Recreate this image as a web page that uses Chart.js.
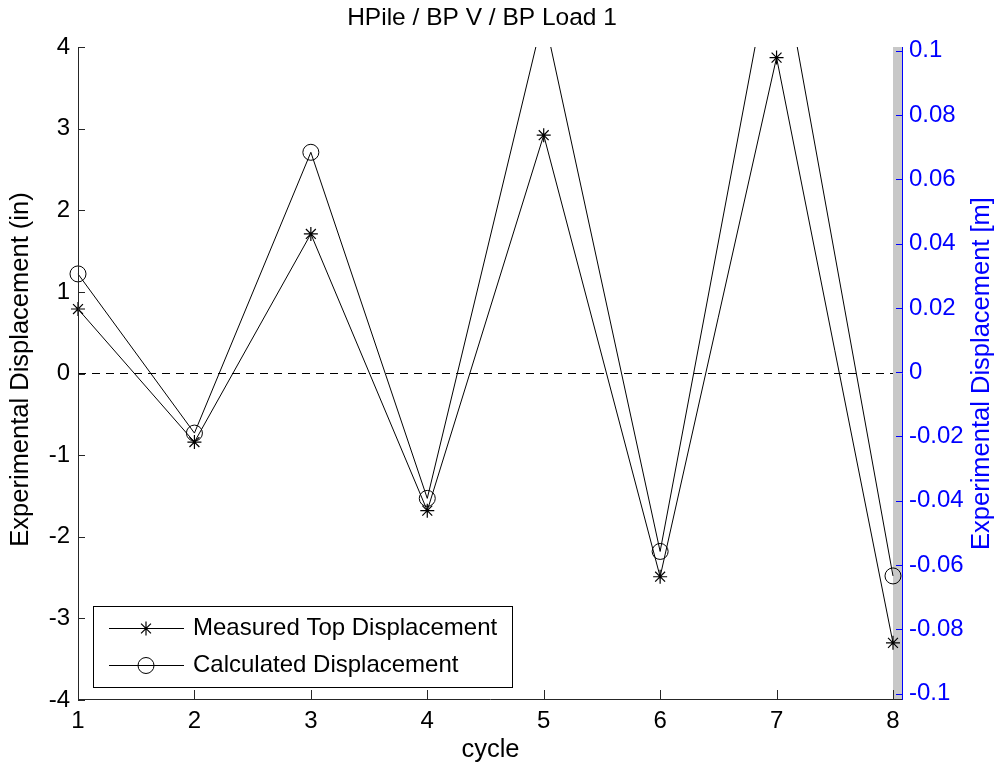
<!DOCTYPE html>
<html>
<head>
<meta charset="utf-8">
<title>HPile / BP V / BP Load 1</title>
<script src="https://cdn.jsdelivr.net/npm/chart.js@4.4.1/dist/chart.umd.min.js"></script>
<style>
    html, body { margin: 0; padding: 0; background: #ffffff; }
    #wrap { width: 996px; height: 776px; }
</style>
</head>
<body>
<div id="wrap"><canvas id="dispChart" width="996" height="776"></canvas></div>
<script>
// values
const cycles = [1, 2, 3, 4, 5, 6, 7, 8];
const measuredTop = [0.79, -0.84, 1.71, -1.68, 2.92, -2.49, 3.87, -3.30];
const calculated = [1.22, -0.73, 2.71, -1.53, 4.4, -2.18, 5.4, -2.48];

const leftTicks = [-4, -3, -2, -1, 0, 1, 2, 3, 4];
const rightTicks = [-0.1, -0.08, -0.06, -0.04, -0.02, 0, 0.02, 0.04, 0.06, 0.08, 0.1];
const rightTickLabels = ['-0.1', '-0.08', '-0.06', '-0.04', '-0.02', '0', '0.02', '0.04', '0.06', '0.08', '0.1'];

const titleText = 'HPile / BP V / BP Load 1';
const xLabel = 'cycle';
const leftLabel = 'Experimental Displacement (in)';
const rightLabel = 'Experimental Displacement [m]';
const legendLabels = ['Measured Top Displacement', 'Calculated Displacement'];

const FONT = '"Liberation Sans", Arial, Helvetica, sans-serif';
const BLUE = '#0000ff';
const AXIS = '#262626';

function toPoints(xs, ys) {
    return xs.map((x, i) => ({ x: x, y: ys[i] }));
}

// gray strip between the last cycle and the right axis, plus axis lines and inward ticks
const axesPlugin = {
    id: 'matlabAxes',
    beforeDatasetsDraw(chart) {
        const { ctx, chartArea: a, scales } = chart;
        const x8 = scales.x.getPixelForValue(cycles[cycles.length - 1]);
        ctx.save();
        ctx.fillStyle = '#c8c8c8';
        ctx.fillRect(x8, a.top, a.right - x8, a.bottom - a.top);
        ctx.restore();
    },
    afterDatasetsDraw(chart) {
        const { ctx, chartArea: a, scales } = chart;
        ctx.save();
        ctx.lineWidth = 1;

        // left axis
        ctx.strokeStyle = AXIS;
        ctx.beginPath();
        ctx.moveTo(a.left + 0.5, a.top);
        ctx.lineTo(a.left + 0.5, a.bottom);
        leftTicks.forEach(v => {
            const y = Math.round(scales.y.getPixelForValue(v)) + 0.5;
            ctx.moveTo(a.left, y);
            ctx.lineTo(a.left + 7, y);
        });
        // bottom axis
        ctx.moveTo(a.left, a.bottom - 0.5);
        ctx.lineTo(a.right, a.bottom - 0.5);
        cycles.forEach(v => {
            const x = Math.round(scales.x.getPixelForValue(v)) + 0.5;
            ctx.moveTo(x, a.bottom);
            ctx.lineTo(x, a.bottom - 10);
        });
        ctx.stroke();

        // right axis
        ctx.strokeStyle = BLUE;
        ctx.beginPath();
        ctx.moveTo(a.right - 0.5, a.top);
        ctx.lineTo(a.right - 0.5, a.bottom);
        rightTicks.forEach(v => {
            const y = Math.round(scales.y1.getPixelForValue(v)) + 0.5;
            ctx.moveTo(a.right, y);
            ctx.lineTo(a.right - 7, y);
        });
        ctx.stroke();
        ctx.restore();
    },
    afterDraw(chart) {
        const { ctx, chartArea: a, data } = chart;
        ctx.save();

        // title
        ctx.fillStyle = '#000';
        ctx.textAlign = 'center';
        ctx.textBaseline = 'middle';
        ctx.font = '24.5px ' + FONT;
        ctx.fillText(titleText, 482, 18);

        // x label
        ctx.font = '25.5px ' + FONT;
        ctx.fillText(xLabel, (a.left + a.right) / 2, 750);

        // left label
        ctx.save();
        ctx.translate(21, (a.top + a.bottom) / 2 - 4);
        ctx.rotate(-Math.PI / 2);
        ctx.fillText(leftLabel, 0, 0);
        ctx.restore();

        // right label
        ctx.save();
        ctx.fillStyle = BLUE;
        ctx.translate(982, (a.top + a.bottom) / 2);
        ctx.rotate(-Math.PI / 2);
        ctx.fillText(rightLabel, 0, 0);
        ctx.restore();

        // legend box
        const box = { x: 93.5, y: 606.5, w: 419, h: 81 };
        ctx.fillStyle = '#fff';
        ctx.fillRect(box.x, box.y, box.w, box.h);
        ctx.strokeStyle = '#000';
        ctx.lineWidth = 1;
        ctx.strokeRect(box.x, box.y, box.w, box.h);

        const rows = [628, 665];
        legendLabels.forEach((label, i) => {
            const ds = data.datasets[i];
            const y = rows[i] + 0.5;
            ctx.strokeStyle = ds.borderColor;
            ctx.lineWidth = ds.borderWidth;
            ctx.beginPath();
            ctx.moveTo(109, y);
            ctx.lineTo(184, y);
            ctx.stroke();
            ctx.fillStyle = 'rgba(0,0,0,0)';
            ctx.strokeStyle = ds.pointBorderColor;
            ctx.lineWidth = ds.pointBorderWidth;
            Chart.helpers.drawPoint(ctx, {
                pointStyle: ds.pointStyle,
                radius: ds.pointRadius,
                borderWidth: ds.pointBorderWidth,
                rotation: 0
            }, 146, y);
            ctx.fillStyle = '#000';
            ctx.textAlign = 'left';
            ctx.textBaseline = 'middle';
            ctx.font = '24px ' + FONT;
            ctx.fillText(label, 193, y);
        });

        ctx.restore();
    }
};

// lines clipped at the top of the axes, markers allowed to spill past the sides
const clipArea = { left: 12, right: 12, top: 0, bottom: 12 };

const config = {
    type: 'line',
    data: {
        datasets: [{
            label: legendLabels[0],
            data: toPoints(cycles, measuredTop),
            borderColor: '#000',
            borderWidth: 1,
            pointStyle: 'star',
            pointRadius: 7,
            pointBorderColor: '#000',
            pointBackgroundColor: 'rgba(0,0,0,0)',
            pointBorderWidth: 1.2,
            tension: 0,
            clip: clipArea,
            yAxisID: 'y'
        }, {
            label: legendLabels[1],
            data: toPoints(cycles, calculated),
            borderColor: '#000',
            borderWidth: 1,
            pointStyle: 'circle',
            pointRadius: 8,
            pointBorderColor: '#000',
            pointBackgroundColor: 'rgba(0,0,0,0)',
            pointBorderWidth: 1,
            tension: 0,
            clip: clipArea,
            yAxisID: 'y'
        }, {
            label: 'zero',
            data: toPoints([cycles[0], cycles[cycles.length - 1]], [0, 0]),
            borderColor: '#000',
            borderWidth: 1,
            borderDash: [8, 6],
            pointRadius: 0,
            tension: 0,
            yAxisID: 'y'
        }]
    },
    options: {
        responsive: false,
        animation: false,
        events: [],
        layout: { padding: { top: 47, left: 0, right: 0, bottom: 0 } },
        plugins: {
            legend: { display: false },
            title: { display: false },
            tooltip: { enabled: false }
        },
        scales: {
            x: {
                type: 'linear',
                min: 1,
                max: 8.086,
                border: { display: false },
                grid: { display: false, drawTicks: false },
                afterBuildTicks: (scale) => { scale.ticks = cycles.map(v => ({ value: v })); },
                afterFit: (scale) => { scale.height = 76; },
                ticks: {
                    padding: 7,
                    color: '#000',
                    font: { family: FONT, size: 24 },
                    maxRotation: 0,
                    autoSkip: false
                }
            },
            y: {
                type: 'linear',
                position: 'left',
                min: -4,
                max: 4,
                border: { display: false },
                grid: { display: false, drawTicks: false },
                afterBuildTicks: (scale) => { scale.ticks = leftTicks.map(v => ({ value: v })); },
                afterFit: (scale) => { scale.width = 78; },
                ticks: {
                    padding: 8,
                    color: '#000',
                    font: { family: FONT, size: 24 }
                }
            },
            y1: {
                type: 'linear',
                position: 'right',
                min: -0.102,
                max: 0.1012,
                border: { display: false },
                grid: { display: false, drawTicks: false },
                afterBuildTicks: (scale) => { scale.ticks = rightTicks.map(v => ({ value: v })); },
                afterFit: (scale) => { scale.width = 93; },
                ticks: {
                    padding: 6,
                    color: BLUE,
                    font: { family: FONT, size: 24 },
                    callback: (value, index) => rightTickLabels[index]
                }
            }
        }
    },
    plugins: [axesPlugin]
};

new Chart(document.getElementById('dispChart'), config);
</script>
</body>
</html>
